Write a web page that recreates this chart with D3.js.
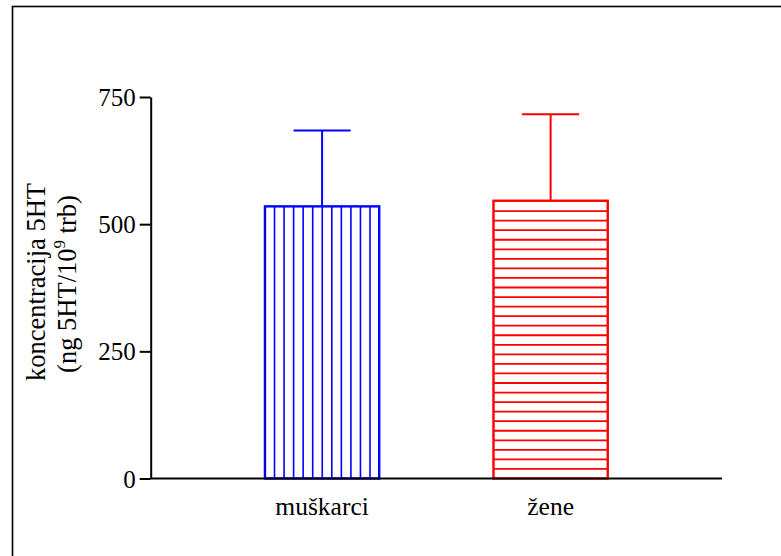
<!DOCTYPE html>
<html>
<head>
<meta charset="utf-8">
<script src="https://cdn.jsdelivr.net/npm/d3@7"></script>
<style>
  html, body { margin: 0; padding: 0; background: #fff; }
  svg { display: block; }
  text { font-family: "Liberation Serif", "Times New Roman", serif; fill: #000; }
</style>
</head>
<body>
<svg id="chart" width="781" height="556"></svg>
<script>
// ---- data ----
const categories = ["muškarci", "žene"];
const means = [535, 546];
const errors = [149, 170];
const yTicks = [0, 250, 500, 750];
const colors = ["#0000ff", "#ff0000"];
const hatchDir = ["vertical", "horizontal"];

const svg = d3.select("#chart");
const W = 781, H = 556;

// outer frame (only top & left visible)
svg.append("rect")
  .attr("x", 12.5).attr("y", 6.5)
  .attr("width", W + 20).attr("height", H + 20)
  .attr("fill", "none").attr("stroke", "#000").attr("stroke-width", 1.6);

const x = d3.scaleBand().domain(categories).range([150.7, 722]).paddingInner(0.5).paddingOuter(0.5);
const y = d3.scaleLinear().domain([0, 750]).range([478.5, 97]);

const HATCH = 9.55;

const g = svg.append("g");

categories.forEach((c, i) => {
  const x0 = x(c), bw = x.bandwidth(), x1 = x0 + bw;
  const yt = y(means[i]), yb = y(0);
  const col = colors[i];
  const bar = g.append("g");
  // hatch lines
  if (hatchDir[i] === "vertical") {
    d3.range(x0 + HATCH, x1 - 2, HATCH).forEach(xx => {
      bar.append("line").attr("x1", xx).attr("x2", xx).attr("y1", yt).attr("y2", yb)
        .attr("stroke", col).attr("stroke-width", 1.6);
    });
  } else {
    d3.range(yb - HATCH, yt + 2, -HATCH).forEach(yy => {
      bar.append("line").attr("x1", x0).attr("x2", x1).attr("y1", yy).attr("y2", yy)
        .attr("stroke", col).attr("stroke-width", 1.8);
    });
  }
  bar.append("rect").attr("x", x0).attr("y", yt).attr("width", bw).attr("height", yb - yt)
    .attr("fill", "none").attr("stroke", col).attr("stroke-width", 2.4);
  // error bar
  const cx = x0 + bw / 2, ye = y(means[i] + errors[i]);
  bar.append("line").attr("x1", cx).attr("x2", cx).attr("y1", yt).attr("y2", ye)
    .attr("stroke", col).attr("stroke-width", 2);
  bar.append("line").attr("x1", cx - bw / 4).attr("x2", cx + bw / 4).attr("y1", ye).attr("y2", ye)
    .attr("stroke", col).attr("stroke-width", 2);
});

// y axis
const yAxis = d3.axisLeft(y).tickValues(yTicks).tickSize(11).tickPadding(4).tickSizeOuter(0);
const ya = svg.append("g").attr("transform", "translate(150.7,0)").call(yAxis);
ya.select(".domain").attr("stroke", "#000").attr("stroke-width", 2);
ya.selectAll(".tick line").attr("stroke", "#000").attr("stroke-width", 2);
ya.selectAll(".tick text").attr("font-family", "Liberation Serif").attr("font-size", 25).attr("fill", "#000").attr("dy", "0.34em");

// x axis
const xAxis = d3.axisBottom(x).tickSize(0).tickPadding(0).tickSizeOuter(0);
const xa = svg.append("g").attr("transform", "translate(0,478.5)").call(xAxis);
xa.select(".domain").attr("stroke", "#000").attr("stroke-width", 2)
  .attr("d", "M150.7,0H722");
xa.selectAll(".tick text").attr("font-family", "Liberation Serif").attr("font-size", 25.5)
  .attr("fill", "#000").attr("dy", null).attr("y", 36);

// y axis title
const t = svg.append("text")
  .attr("transform", "translate(45,282) rotate(-90)")
  .attr("text-anchor", "middle")
  .attr("font-size", 26.5);
t.append("tspan").attr("x", 0).attr("y", 0).text("koncentracija 5HT");
const t2 = svg.append("text")
  .attr("transform", "translate(75.5,284) rotate(-90)")
  .attr("text-anchor", "middle")
  .attr("font-size", 26.5);
t2.append("tspan").text("(ng 5HT/10");
t2.append("tspan").attr("font-size", 17).attr("dy", -11).text("9");
t2.append("tspan").attr("dy", 11).text(" trb)");
</script>
</body>
</html>
